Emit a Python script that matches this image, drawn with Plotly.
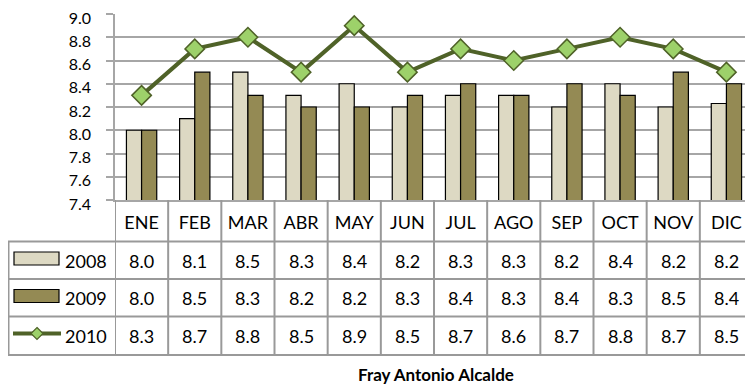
import plotly.graph_objects as go

# ---- data ----
months = ["ENE", "FEB", "MAR", "ABR", "MAY", "JUN", "JUL", "AGO", "SEP", "OCT", "NOV", "DIC"]
v2008 = [8.0, 8.1, 8.5, 8.3, 8.4, 8.2, 8.3, 8.3, 8.2, 8.4, 8.2, 8.23]
v2009 = [8.0, 8.5, 8.3, 8.2, 8.2, 8.3, 8.4, 8.3, 8.4, 8.3, 8.5, 8.4]
v2010 = [8.3, 8.7, 8.8, 8.5, 8.9, 8.5, 8.7, 8.6, 8.7, 8.8, 8.7, 8.5]
series_names = ["2008", "2009", "2010"]
y_ticks = [7.4, 7.6, 7.8, 8.0, 8.2, 8.4, 8.6, 8.8, 9.0]
chart_title = "Fray Antonio Alcalde"

# ---- styles ----
C2008 = "#DDD9C3"
C2009 = "#948A54"
CLINE = "#4F6228"
CMARK = "#9DD16A"
GRID = "#A6A6A6"
TBL = "#999999"
FONT = "Lato"

OFF = 8  # page body margin
W, H = 753 - OFF, 386 - OFF
ML, MR, MT, MB = 115 - OFF, 0, 14 - OFF, 186
PW = W - ML - MR
PH = H - MT - MB


def px(xs):
    return (xs - OFF - ML) / PW


def py(ys):
    return ((H - MB) - (ys - OFF)) / PH


fig = go.Figure()
fig.add_trace(go.Bar(x=months, y=v2008, name=series_names[0],
                     marker=dict(color=C2008, line=dict(color="#000000", width=1.2))))
fig.add_trace(go.Bar(x=months, y=v2009, name=series_names[1],
                     marker=dict(color=C2009, line=dict(color="#000000", width=1.2))))
fig.add_trace(go.Scatter(x=months, y=v2010, name=series_names[2], mode="lines+markers",
                         line=dict(color=CLINE, width=4),
                         marker=dict(symbol="diamond", size=15, color=CMARK,
                                     line=dict(color=CLINE, width=1.5)),
                         cliponaxis=False))

shapes = []
for yy in [241.5, 279, 316.5, 355]:
    shapes.append(dict(type="line", xref="paper", yref="paper", x0=px(8), x1=1,
                       y0=py(yy), y1=py(yy), line=dict(color=TBL, width=2)))
for i in range(len(months)):
    shapes.append(dict(type="line", xref="x", yref="paper", x0=i - 0.5, x1=i - 0.5,
                       y0=py(200), y1=py(355), line=dict(color=TBL, width=2)))
shapes.append(dict(type="line", xref="paper", yref="paper", x0=px(8.5), x1=px(8.5),
                   y0=py(241.5), y1=py(355), line=dict(color=TBL, width=2)))

row_centers = [260.5, 298, 336]
shapes.append(dict(type="rect", xref="paper", yref="paper", x0=px(14), x1=px(59),
                   y0=py(265), y1=py(252), fillcolor=C2008, line=dict(color="#000000", width=1.2)))
shapes.append(dict(type="rect", xref="paper", yref="paper", x0=px(14), x1=px(59),
                   y0=py(302.5), y1=py(289.5), fillcolor=C2009, line=dict(color="#000000", width=1.2)))
ly = row_centers[2] - 2.5
shapes.append(dict(type="line", xref="paper", yref="paper", x0=px(13), x1=px(61),
                   y0=py(ly), y1=py(ly), line=dict(color=CLINE, width=4)))
cx, r = 37, 6
path = "M {},{} L {},{} L {},{} L {},{} Z".format(
    px(cx), py(ly - r), px(cx + r), py(ly), px(cx), py(ly + r), px(cx - r), py(ly))
shapes.append(dict(type="path", xref="paper", yref="paper", path=path,
                   fillcolor=CMARK, line=dict(color=CLINE, width=1.2)))

annotations = []
for name, vals, yc in zip(series_names, [v2008, v2009, v2010], row_centers):
    annotations.append(dict(x=px(63), y=py(yc), xref="paper", yref="paper", text=name,
                            xanchor="left", yanchor="middle", showarrow=False,
                            font=dict(family=FONT, size=18, color="#000000")))
    for m, v in zip(months, vals):
        annotations.append(dict(x=m, y=py(yc), xref="x", yref="paper", text=f"{v:.1f}",
                                xanchor="center", yanchor="middle", showarrow=False,
                                font=dict(family=FONT, size=18, color="#000000")))
annotations.append(dict(x=px(436), y=py(374), xref="paper", yref="paper",
                        text="<b>" + chart_title + "</b>",
                        xanchor="center", yanchor="middle", showarrow=False,
                        font=dict(family=FONT, size=17, color="#000000")))

fig.update_layout(
    width=W, height=H,
    margin=dict(l=ML, r=MR, t=MT, b=MB, pad=0),
    paper_bgcolor="white", plot_bgcolor="white",
    barmode="group", bargap=0.43, bargroupgap=0,
    showlegend=False,
    shapes=shapes, annotations=annotations,
    font=dict(family=FONT, color="#000000"),
    xaxis=dict(type="category", range=[-0.5, len(months) - 0.5],
               showgrid=False, showline=True, linecolor=GRID, linewidth=1.5,
               ticks="", tickfont=dict(family=FONT, size=18, color="#000000"),
               ticklabelstandoff=6, automargin=False),
    yaxis=dict(range=[7.4, 9.0], tickvals=y_ticks, tickformat=".1f",
               showgrid=True, gridcolor=GRID, gridwidth=1.5,
               showline=True, linecolor=GRID, linewidth=1.5,
               ticks="outside", ticklen=7, tickcolor=GRID, tickwidth=1.5,
               tickfont=dict(family=FONT, size=16, color="#000000"),
               ticklabelstandoff=12, ticklabelshift=4, ticklabeloverflow="allow",
               zeroline=False, automargin=False),
)

fig.write_html("out.html")
